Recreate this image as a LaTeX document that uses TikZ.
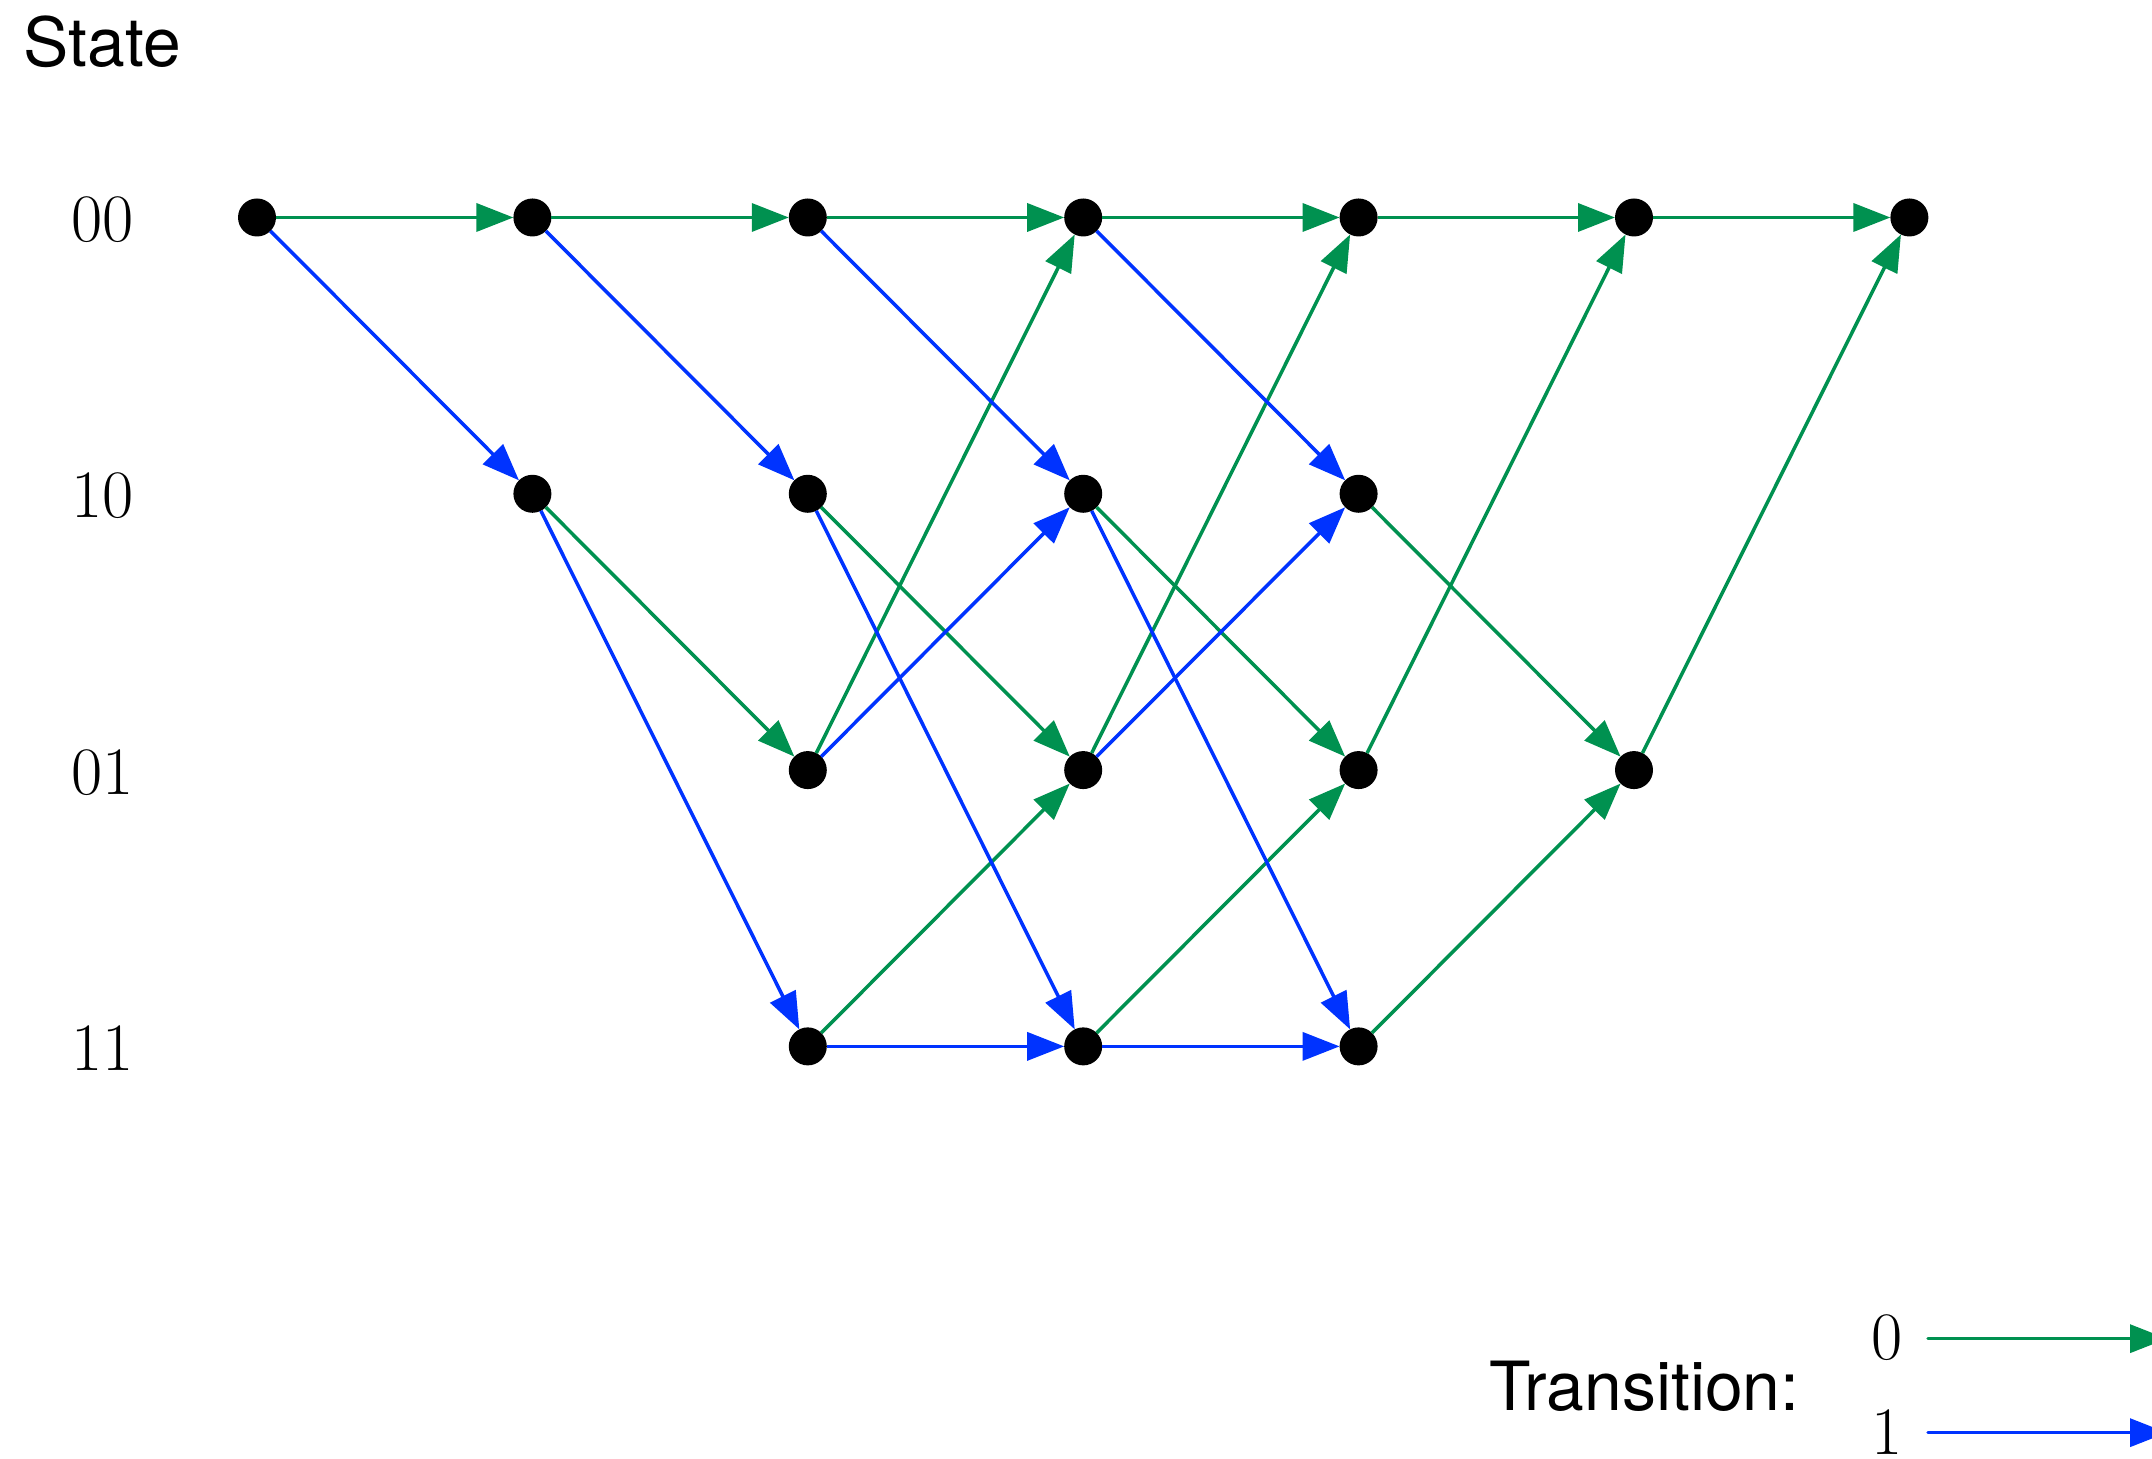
\documentclass[tikz,border=0pt]{standalone}
\usepackage{fontspec}
\newfontfamily\hv{TeX Gyre Heros}
\usetikzlibrary{arrows.meta}
\definecolor{tgreen}{RGB}{0,145,80}
\definecolor{tblue}{RGB}{0,51,255}
\begin{document}
\begin{tikzpicture}[
  st/.style={circle,fill=black,minimum size=3.8mm,inner sep=0pt,outer sep=0pt},
  zero/.style={draw=tgreen,line width=1pt,-{Triangle[length=3.7mm,width=2.8mm]}},
  one/.style={draw=tblue,line width=1pt,-{Triangle[length=3.7mm,width=2.8mm]}},
  lbl/.style={font=\fontsize{19.3}{23}\selectfont,inner sep=0pt,anchor=base},
  sans/.style={font=\hv\fontsize{19.3}{23}\selectfont,inner sep=0pt,anchor=base west},
]
\useasboundingbox (0,0) rectangle (21.52,-14.59);
% states
\foreach \c/\r in {0/0, 1/0,1/1, 2/0,2/1,2/2,2/3, 3/0,3/1,3/2,3/3, 4/0,4/1,4/2,4/3, 5/0,5/2, 6/0}{
  \node[st] (c\c r\r) at ({2.57+2.754*\c},{-(2.175+2.763*\r)}) {};
}
% row labels
\node[sans] (title) at (0.23,-0.665) {State};
\node[lbl] (l00) at (1.03,-2.415) {00};
\node[lbl] (l10) at (1.03,-5.18) {10};
\node[lbl] (l01) at (1.03,-7.945) {01};
\node[lbl] (l11) at (1.03,-10.71) {11};
% input 0 transitions
\draw[zero] (c0r0) -- (c1r0);
\draw[zero] (c1r0) -- (c2r0);
\draw[zero] (c1r1) -- (c2r2);
\foreach \k [evaluate=\k as \n using int(\k+1)] in {2,3,4}{
  \draw[zero] (c\k r0) -- (c\n r0);
  \draw[zero] (c\k r1) -- (c\n r2);
  \draw[zero] (c\k r2) -- (c\n r0);
  \draw[zero] (c\k r3) -- (c\n r2);
}
\draw[zero] (c5r0) -- (c6r0);
\draw[zero] (c5r2) -- (c6r0);
% input 1 transitions
\draw[one] (c0r0) -- (c1r1);
\draw[one] (c1r0) -- (c2r1);
\draw[one] (c1r1) -- (c2r3);
\foreach \k [evaluate=\k as \n using int(\k+1)] in {2,3}{
  \draw[one] (c\k r0) -- (c\n r1);
  \draw[one] (c\k r1) -- (c\n r3);
  \draw[one] (c\k r2) -- (c\n r1);
  \draw[one] (c\k r3) -- (c\n r3);
}
% legend
\node[sans] (trans) at (14.885,-14.11) {Transition:};
\node[lbl] (lz) at (18.87,-13.60) {0};
\node[lbl] (lo) at (18.87,-14.55) {1};
\coordinate (gz0) at (19.28,-13.387);
\coordinate (gz1) at (21.67,-13.387);
\coordinate (bo0) at (19.28,-14.327);
\coordinate (bo1) at (21.67,-14.327);
\draw[zero,line cap=round] (gz0) -- (gz1);
\draw[one,line cap=round] (bo0) -- (bo1);
\end{tikzpicture}
\end{document}
